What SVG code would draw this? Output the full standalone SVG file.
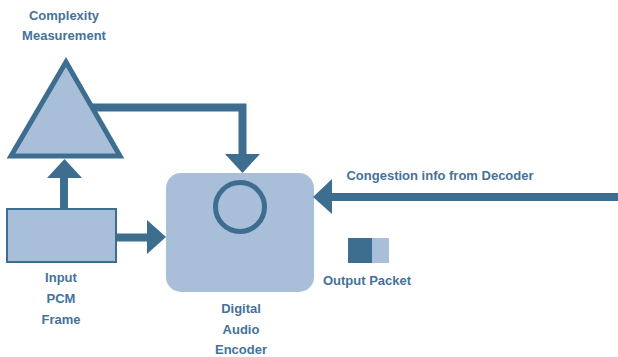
<svg xmlns="http://www.w3.org/2000/svg" width="618" height="357" viewBox="0 0 618 357">
<style>
.t{font-family:"Liberation Sans",Arial,sans-serif;font-weight:bold;font-size:13px;fill:#44729a;text-anchor:middle}
.ln{stroke:#3d6e8f;fill:none;stroke-width:8}
.ah{fill:#3d6e8f}
</style>
<rect width="618" height="357" fill="#ffffff"/>
<g id="complexity">
<polygon points="66,62 11,156 120,156" fill="#a9bfd9" stroke="#3d6e8f" stroke-width="5" stroke-linejoin="miter"/>
<text class="t" x="64" y="20">Complexity</text>
<text class="t" x="64" y="40">Measurement</text>
</g>
<g id="input">
<rect x="7" y="209" width="109" height="53" fill="#a9bfd9" stroke="#3d6e8f" stroke-width="2"/>
<text class="t" x="61" y="282">Input</text>
<text class="t" x="61" y="303">PCM</text>
<text class="t" x="61" y="324">Frame</text>
</g>
<g id="encoder">
<rect x="166" y="173" width="148" height="119" rx="15" fill="#a9bfd9"/>
<circle cx="240" cy="207" r="24.5" fill="none" stroke="#3d6e8f" stroke-width="5"/>
<text class="t" x="241" y="313">Digital</text>
<text class="t" x="241" y="334">Audio</text>
<text class="t" x="241" y="354">Encoder</text>
</g>
<g id="packet">
<rect x="348" y="238" width="24" height="25" fill="#3d6e8f"/>
<rect x="372" y="238" width="17" height="25" fill="#a9bfd9"/>
<text class="t" x="367" y="285">Output Packet</text>
</g>
<g id="connectors">
<polyline class="ln" points="92,107.5 242.5,107.5 242.5,156"/>
<polygon class="ah" points="225,154 260,154 242.5,173"/>
<line class="ln" x1="64" y1="209" x2="64" y2="176"/>
<polygon class="ah" points="47,178 82,178 64.5,159"/>
<line class="ln" x1="116" y1="237.5" x2="149" y2="237.5"/>
<polygon class="ah" points="147,220 147,254 166,237"/>
<line class="ln" x1="618" y1="197" x2="330" y2="197"/>
<polygon class="ah" points="332,179 332,214 313,197"/>
<text class="t" x="440" y="180">Congestion info from Decoder</text>
</g>
</svg>
